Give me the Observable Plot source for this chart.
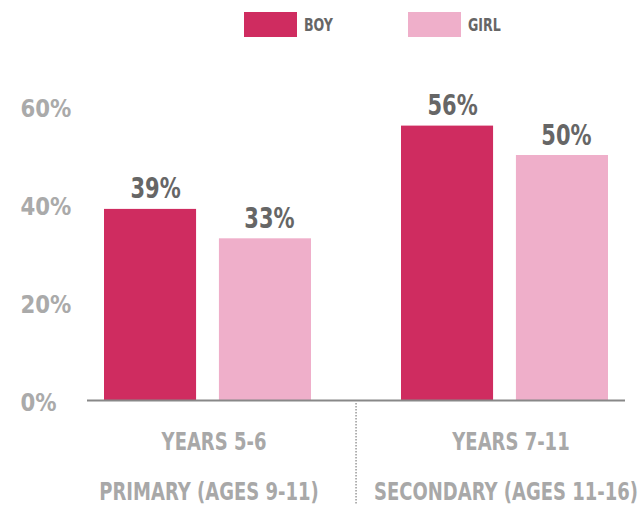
<!DOCTYPE html>
<html>
<head>
<meta charset="utf-8">
<script src="https://cdn.jsdelivr.net/npm/d3@7"></script>
<script src="https://cdn.jsdelivr.net/npm/@observablehq/plot@0.6"></script>
<style>
  html, body { margin: 0; padding: 0; background: #fff; }
  body { width: 641px; height: 505px; overflow: hidden; font-family: "DejaVu Sans", sans-serif; font-weight: bold; }
  #legend { position: relative; height: 50px; width: 641px; }
  .sw { position: absolute; top: 12px; width: 53px; height: 25px; }
  .lb { position: absolute; top: 12px; height: 25px; line-height: 25px; font-size: 18px; color: #666;
        transform: scaleX(0.7); transform-origin: left center; white-space: nowrap; }
  #chart svg { display: block; }
</style>
</head>
<body>
<div id="legend"></div>
<div id="chart"></div>
<script>
// ---- data ----
const phases = ["PRIMARY (AGES 9-11)", "SECONDARY (AGES 11-16)"];
const years = ["YEARS 5-6", "YEARS 7-11"];
const series = ["BOY", "GIRL"];
const boy = [39, 56];
const girl = [33, 50];
const colors = ["#cf2c60", "#efafca"];
const yTicks = [0, 20, 40, 60];

// table built from the arrays
const data = phases.flatMap((p, i) => [
  {phase: p, years: years[i], sex: series[0], value: boy[i]},
  {phase: p, years: years[i], sex: series[1], value: girl[i]}
]);
const boyData = data.filter(d => d.sex === series[0]);
const girlData = data.filter(d => d.sex === series[1]);
const groupData = phases.map((p, i) => ({phase: p, years: years[i]}));

// ---- legend ----
const legend = document.getElementById("legend");
const legendPos = [[244, 304], [408, 468]];
series.forEach((s, i) => {
  const sw = document.createElement("div");
  sw.className = "sw";
  sw.style.left = legendPos[i][0] + "px";
  sw.style.background = colors[i];
  legend.appendChild(sw);
  const lb = document.createElement("div");
  lb.className = "lb";
  lb.style.left = legendPos[i][1] + "px";
  lb.textContent = s;
  legend.appendChild(lb);
});

// ---- layout ----
const W = 641, H = 455;
const mL = 87, mR = 16, mB = 105;
const yMax = 65, pxPer = 4.9;
const mT = H - mB - yMax * pxPer;
const pIn = 0.302, pOut = 0.054;
const step = (W - mL - mR) / (phases.length - pIn + 2 * pOut);
const bw = step * (1 - pIn);
const barW = 93;
const inset = bw - barW;
const off = (bw - barW) / 2;

const plot = Plot.plot({
  width: W,
  height: H,
  marginLeft: mL,
  marginRight: mR,
  marginTop: mT,
  marginBottom: mB,
  style: {fontFamily: '"DejaVu Sans", sans-serif', fontWeight: "bold", background: "#fff", overflow: "visible"},
  x: {type: "band", domain: phases, paddingInner: pIn, paddingOuter: pOut, axis: null},
  y: {domain: [0, yMax], axis: null},
  marks: [
    Plot.axisY(yTicks, {tickSize: 0, tickFormat: d => d + "%", textAnchor: "start", dx: -58, dy: 2,
      fontSize: 25, fill: "#aaa", label: null}),
    Plot.barY(boyData, {x: "phase", y: "value", fill: colors[0], insetRight: inset}),
    Plot.barY(girlData, {x: "phase", y: "value", fill: colors[1], insetLeft: inset}),
    Plot.ruleY([0], {stroke: "#888", strokeWidth: 2}),
    Plot.text(boyData, {x: "phase", y: "value", text: d => d.value + "%", dx: -off + 5, dy: -11,
      lineAnchor: "bottom", fontSize: 28, fill: "#666"}),
    Plot.text(girlData, {x: "phase", y: "value", text: d => d.value + "%", dx: off + 4, dy: -11,
      lineAnchor: "bottom", fontSize: 28, fill: "#666"}),
    Plot.ruleX(groupData.slice(1), {x: "phase", dx: -step / 2, y1: -3 / pxPer, y2: -mB / pxPer,
      stroke: "#999", strokeWidth: 1.5, strokeDasharray: "1.5,1.5"}),
    Plot.text(groupData, {x: "phase", text: "years", frameAnchor: "bottom", dy: 41, dx: 6,
      lineAnchor: "middle", fontSize: 25, fill: "#a8a8a8"}),
    Plot.text(groupData, {x: "phase", text: "phase", frameAnchor: "bottom", dy: 91, dx: 1,
      lineAnchor: "middle", fontSize: 25, fill: "#a8a8a8"})
  ]
});

// condense the glyphs horizontally (no condensed display face is installed)
d3.select(plot).selectAll("text").each(function() {
  const isTick = this.closest('g[aria-label="y-axis tick label"]') !== null;
  const fsG = this.closest("g[font-size]");
  const fs = fsG ? fsG.getAttribute("font-size") : "";
  const s = isTick ? 0.85 : (fs === "28" ? 0.75 : 0.72);
  let tr = this.getAttribute("transform");
  if (!tr) {
    const x = +this.getAttribute("x") || 0, y = +this.getAttribute("y") || 0;
    this.removeAttribute("x"); this.removeAttribute("y");
    tr = `translate(${x},${y})`;
  }
  this.setAttribute("transform", `${tr} scale(${s},1)`);
});

document.getElementById("chart").appendChild(plot);
</script>
</body>
</html>
